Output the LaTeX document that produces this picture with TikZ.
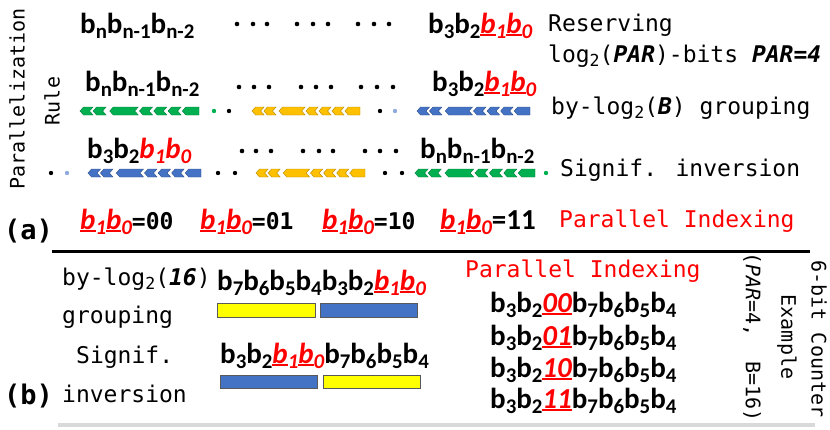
\documentclass[tikz,border=0pt]{standalone}
\usepackage{fontspec}
\newfontfamily\myCal{Carlito}
\newfontfamily\myMono{DejaVu Sans Mono}
\definecolor{cgreen}{HTML}{00B050}
\definecolor{cyellow}{HTML}{FFC000}
\definecolor{cblue}{HTML}{4472C4}
\definecolor{clblue}{HTML}{8FAADC}
\definecolor{myred}{HTML}{FF0000}
\definecolor{yel}{HTML}{FFFF00}
\newsavebox\ulbox
\newcommand\myul[1]{\sbox\ulbox{#1}\rlap{\rule[-0.09em]{\wd\ulbox}{0.065em}}\usebox\ulbox}
\newcommand\lo[1]{\raisebox{-0.18em}{\scalebox{0.72}{#1}}}
\newcommand\bb[1]{b\lo{#1}}
\newcommand\rb[1]{{\color{myred}\itshape\myul{b}\lo{#1}}}
\newcommand\rbn[1]{{\color{myred}\itshape b\lo{#1}}}
\newcommand\rd[1]{{\color{myred}\itshape\myul{#1}}}
\newcommand\chevbar[4]{%
  \foreach \pa/\pb in {0/.08, .11/.19, .25/.46, .50/.58, .62/.70, .74/.82, .86/1} {
    \pgfmathsetmacro\xa{#1+\pa*(#2-#1)}
    \pgfmathsetmacro\xb{#1+\pb*(#2-#1)}
    \ifdim\pb pt<0.999pt
      \filldraw[fill=#4, draw=#4!70!black, line width=0.4pt] (\xa,#3) -- (\xa+3.5,#3-4) -- (\xb+3.5,#3-4) -- (\xb,#3) -- (\xb+3.5,#3+4) -- (\xa+3.5,#3+4) -- cycle;
    \else
      \filldraw[fill=#4, draw=#4!70!black, line width=0.4pt] (\xa,#3) -- (\xa+3.5,#3-4) -- (\xb,#3-4) -- (\xb,#3+4) -- (\xa+3.5,#3+4) -- cycle;
    \fi
  }%
}
\begin{document}
\begin{tikzpicture}[x=1pt,y=-1pt,
  bits/.style={inner sep=0pt, anchor=base west, font=\myCal\bfseries\fontsize{29}{30}\selectfont},
  mono/.style={inner sep=0pt, anchor=base west, font=\myMono\fontsize{23}{24}\selectfont},
  monob/.style={inner sep=0pt, anchor=base west, font=\myMono\bfseries\fontsize{27}{28}\selectfont},
  monos/.style={inner sep=0pt, anchor=center, font=\myMono\fontsize{20}{21}\selectfont},
  dot/.style={fill=black},
  bar/.style={draw=gray!70!black, line width=0.5pt}]
\useasboundingbox (0,0) rectangle (830,429);

% left rotated labels
\node[monos, rotate=90] (parl) at (17,99) {Parallelization};
\node[monos, rotate=90] (rule) at (52,101) {Rule};

% row 1
\node[bits] (r1a) at (80,33) {\bb{n}\bb{n-1}\bb{n-2}};
\foreach \x in {237,253,267,297,313,328,358,374,389} \fill[dot] (\x,24) circle (2.3pt);
\node[bits] (r1b) at (428,33) {\bb3\bb2\rb1\rb0};
\node[mono] (res1) at (548,31) {Reserving};
\node[mono] (res2) at (548,62) {log\lo{2}({\bfseries\itshape PAR})-bits {\bfseries\itshape PAR=4}};

% row 2
\node[bits] (r2a) at (85,91) {\bb{n}\bb{n-1}\bb{n-2}};
\foreach \x in {239,254,269,301,316,331,361,377,393} \fill[dot] (\x,87) circle (2.3pt);
\node[bits] (r2b) at (432,91) {\bb3\bb2\rb1\rb0};
\node[mono] (grp) at (551,114) {by-log\lo{2}({\bfseries\itshape B}) grouping};
\chevbar{80}{199}{111}{cgreen}
\fill[cgreen] (214,111) circle (2.2pt);
\fill[dot] (229,111) circle (2.2pt);
\chevbar{252}{360}{111}{cyellow}
\fill[dot] (380,111) circle (2.2pt);
\fill[clblue] (395,111) circle (2.2pt);
\chevbar{417}{530}{111}{cblue}

% row 3
\node[bits] (r3a) at (87,158) {\bb3\bb2\rbn1\rbn0};
\foreach \x in {242,256,271,303,319,333,365,380,396} \fill[dot] (\x,151) circle (2.3pt);
\node[bits] (r3b) at (420,158) {\bb{n}\bb{n-1}\bb{n-2}};
\node[mono] (inv) at (560,176) {Signif. inversion};
\fill[dot] (51,173) circle (2.2pt);
\fill[clblue] (67,173) circle (2.2pt);
\chevbar{88}{201}{173}{cblue}
\fill[dot] (218,173) circle (2.2pt);
\fill[dot] (235,173) circle (2.2pt);
\chevbar{256}{365}{173}{cyellow}
\fill[dot] (385,173) circle (2.2pt);
\fill[dot] (402,173) circle (2.2pt);
\chevbar{415}{535}{173}{cgreen}
\fill[cgreen] (546,173) circle (2.2pt);

% (a)
\node[monob] (la) at (4,239) {(a)};
\node[bits] (a0) at (80,229) {\rb1\rb0{\myMono\fontsize{23}{24}\selectfont =00}};
\node[bits] (a1) at (200,229) {\rb1\rb0{\myMono\fontsize{23}{24}\selectfont =01}};
\node[bits] (a2) at (322,229) {\rb1\rb0{\myMono\fontsize{23}{24}\selectfont =10}};
\node[bits] (a3) at (440,229) {\rb1\rb0=11};
\node[mono, text=myred] (pia) at (559,227) {Parallel Indexing};

\coordinate (l1a) at (52,251);
\coordinate (l1b) at (810,251);
\draw[line width=3pt] (l1a) -- (l1b);
\coordinate (l2a) at (58,425);
\coordinate (l2b) at (815,425);
\draw[line width=4pt, gray!30] (l2a) -- (l2b);

% (b)
\node[mono] (b1) at (62,285) {by-log\lo{2}({\bfseries\itshape 16})};
\node[mono] (b2) at (62,323) {grouping};
\node[mono] (b3) at (76,363) {Signif.};
\node[mono] (b4) at (62,402) {inversion};
\node[monob] (lb) at (4,404) {(b)};
\node[bits] (g1) at (217,290) {\bb7\bb6\bb5\bb4\bb3\bb2\rb1\rb0};
\filldraw[bar, fill=yel] (217,303) rectangle (315,317);
\filldraw[bar, fill=cblue] (320,303) rectangle (417,317);
\node[bits] (g2) at (220,363) {\bb3\bb2\rb1\rb0\bb7\bb6\bb5\bb4};
\filldraw[bar, fill=cblue] (220,375) rectangle (317,388);
\filldraw[bar, fill=yel] (323,375) rectangle (420,388);

\node[mono, text=myred] (pib) at (465,277) {Parallel Indexing};
\node[bits] (p0) at (490,312) {\bb3\bb2\rd{00}\bb7\bb6\bb5\bb4};
\node[bits] (p1) at (490,345) {\bb3\bb2\rd{01}\bb7\bb6\bb5\bb4};
\node[bits] (p2) at (490,377) {\bb3\bb2\rd{10}\bb7\bb6\bb5\bb4};
\node[bits] (p3) at (490,408) {\bb3\bb2\rd{11}\bb7\bb6\bb5\bb4};

\node[monos, rotate=-90] (ex1) at (752,337) {({\itshape PAR}=4,~~B=16)};
\node[monos, rotate=-90] (ex2) at (787,337) {Example};
\node[monos, rotate=-90] (ex3) at (819,339) {6-bit Counter};
\end{tikzpicture}
\end{document}
